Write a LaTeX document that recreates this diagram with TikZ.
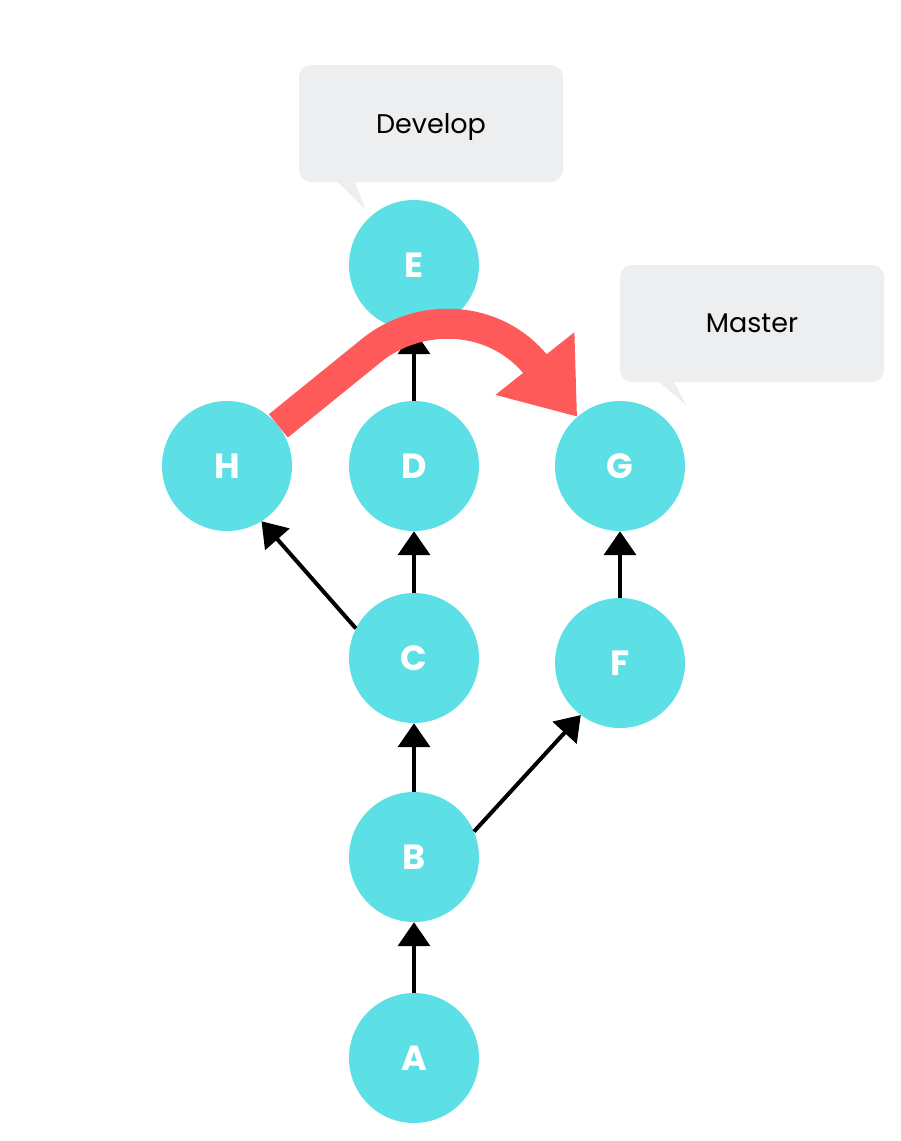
\documentclass[tikz,border=0pt]{standalone}
\usepackage{fontspec}
\setmainfont{Poppins}
\usetikzlibrary{arrows.meta}
\definecolor{commitcol}{HTML}{5CE0E5}
\definecolor{mergecol}{HTML}{FF5A5A}
\definecolor{tagcol}{HTML}{EDEEF0}
\begin{document}
\begin{tikzpicture}[x=1pt,y=-1pt,
		commit/.style={circle, fill=commitcol, minimum size=130pt, inner sep=0pt, text=white, font=\fontsize{35}{35}\selectfont\bfseries},
		tag/.style={rounded corners=12pt, fill=tagcol, minimum width=264pt, minimum height=117pt, text depth=0pt, font=\fontsize{27}{27}\selectfont},
		link/.style={line width=4pt, -{Triangle[length=24pt,width=32pt]}},
		merge/.style={line width=30pt, draw=mergecol, -{Triangle[length=68pt,width=96pt]}}]
		\useasboundingbox (0,0) rectangle (901,1141);
		% branch labels
		\node[tag] (develop) at (431,123.5) {Develop};
		\node[tag] (master) at (752,323.5) {Master};
		\fill[tagcol] (336,180) -- (354,180) -- (366,210) -- cycle;
		\fill[tagcol] (657,380) -- (673,380) -- (686,405) -- cycle;
		% commits
		\node[commit] (A) at (414,1058) {A};
		\node[commit] (B) at (414,857) {B};
		\node[commit] (C) at (414,658) {C};
		\node[commit] (D) at (414,466) {D};
		\node[commit] (E) at (414,265) {E};
		\node[commit] (F) at (620,663) {F};
		\node[commit] (G) at (620,466) {G};
		\node[commit] (H) at (227,466) {H};
		\draw[link] (A) to (B);
		\draw[link] (B) to (C);
		\draw[link] (B.23) to (F.233);
		\draw[link] (C) to (D);
		\draw[link] (C.153) to (H.302);
		\draw[link] (D) to (E);
		\draw[link] (F) to (G);
		% merge
		\draw[merge] (H.38) -- (372,350) .. controls (418,313) and (494,312) .. (G.131);
	\end{tikzpicture}
\end{document}
